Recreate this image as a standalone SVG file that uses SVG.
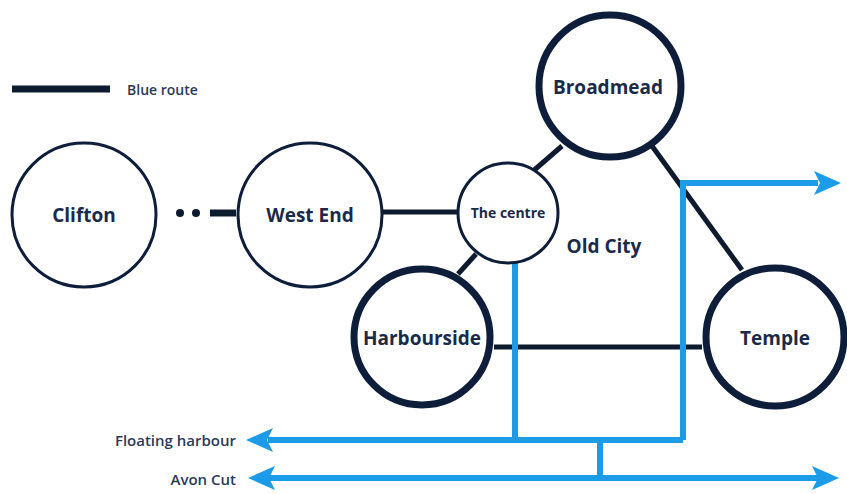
<svg xmlns="http://www.w3.org/2000/svg" width="847" height="494" viewBox="0 0 847 494">
<style>
.node{fill:#fff;stroke:#0e1e3a}
.thin{stroke-width:3}
.thick{stroke-width:7}
.lbl{font-family:"Open Sans","Noto Sans",sans-serif;font-weight:bold;fill:#1b2a4a;text-anchor:middle;dominant-baseline:central}
.small{font-family:"Open Sans","Noto Sans",sans-serif;font-size:15px;font-weight:600;fill:#2a3a5a;dominant-baseline:central}
.dark{stroke:#0e1a2e;fill:none}
.blue{stroke:#1b9be8;fill:none;stroke-width:6}
.head{fill:#1b9be8}
</style>
<rect width="847" height="494" fill="#fff"/>
<g id="legend">
<line x1="12" y1="89" x2="110" y2="89" stroke="#0e1a2e" stroke-width="7"/>
<text class="small" x="127" y="89" style="font-size:14px">Blue route</text>
</g>
<g id="connectors">
<circle cx="180" cy="213" r="4" fill="#0e1a2e"/>
<circle cx="196" cy="213" r="4" fill="#0e1a2e"/>
<line x1="210" y1="213" x2="236" y2="213" class="dark" stroke-width="7"/>
<line x1="383" y1="212" x2="458" y2="212" class="dark" stroke-width="5"/>
<line x1="532" y1="172" x2="562" y2="146" class="dark" stroke-width="5"/>
<line x1="476" y1="254" x2="458" y2="274" class="dark" stroke-width="5"/>
<line x1="652" y1="146" x2="742" y2="270" class="dark" stroke-width="5"/>
<line x1="494" y1="347" x2="702" y2="347" class="dark" stroke-width="5"/>
<polyline class="blue" points="515,262 515,440"/>
<polyline class="blue" points="683,440 683,183 818,183"/>
<polygon class="head" points="841,183 814,171 820,183 814,195"/>
<polyline class="blue" points="683,440 268,440"/>
<polygon class="head" points="246,440 273,428 267,440 273,452"/>
<line class="blue" x1="600" y1="440" x2="600" y2="478"/>
<line class="blue" x1="268" y1="478" x2="818" y2="478"/>
<polygon class="head" points="248,478 275,466 269,478 275,490"/>
<polygon class="head" points="839,478 812,466 818,478 812,490"/>
</g>
<g id="clifton">
<circle class="node thin" cx="84" cy="215" r="72"/>
<text class="lbl" x="84" y="215" font-size="19">Clifton</text>
</g>
<g id="westend">
<circle class="node thin" cx="310" cy="215" r="72"/>
<text class="lbl" x="310" y="215" font-size="19">West End</text>
</g>
<g id="centre">
<circle class="node thin" cx="508" cy="213" r="50"/>
<text class="lbl" x="508" y="212" font-size="14">The centre</text>
</g>
<g id="broadmead">
<circle class="node thick" cx="610" cy="86" r="71"/>
<text class="lbl" x="608" y="87" font-size="19">Broadmead</text>
</g>
<g id="harbourside">
<circle class="node thick" cx="422" cy="337" r="68"/>
<text class="lbl" x="422" y="338" font-size="19">Harbourside</text>
</g>
<g id="temple">
<circle class="node thick" cx="775" cy="337" r="69"/>
<text class="lbl" x="775" y="338" font-size="19">Temple</text>
</g>
<g id="oldcity">
<text class="lbl" x="604" y="246" font-size="19">Old City</text>
</g>
<g id="water">
<text class="small" x="236" y="440" text-anchor="end">Floating harbour</text>
<text class="small" x="236" y="479" text-anchor="end">Avon Cut</text>
</g>
</svg>
